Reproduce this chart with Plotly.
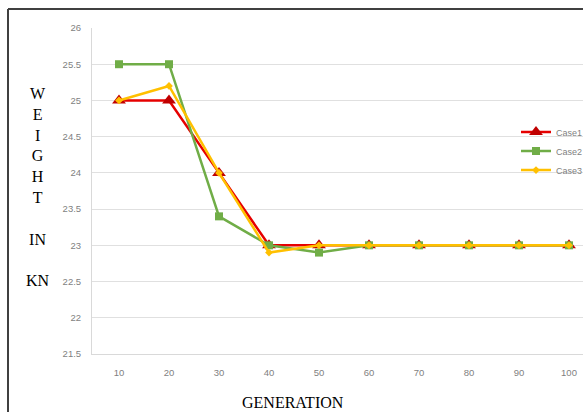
import plotly.graph_objects as go

generations = [10, 20, 30, 40, 50, 60, 70, 80, 90, 100]
case1 = [25, 25, 24, 23, 23, 23, 23, 23, 23, 23]
case2 = [25.5, 25.5, 23.4, 23, 22.9, 23, 23, 23, 23, 23]
case3 = [25, 25.2, 24, 22.9, 23, 23, 23, 23, 23, 23]
y_ticks = [21.5, 22, 22.5, 23, 23.5, 24, 24.5, 25, 25.5, 26]
y_tick_text = ["21.5", "22", "22.5", "23", "23.5", "24", "24.5", "25", "25.5", "26"]

fig = go.Figure()
fig.add_trace(go.Scatter(x=generations, y=case1, name="Case1", mode="lines+markers",
                         line=dict(color="#e60000", width=2.5),
                         marker=dict(symbol="triangle-up", size=12, color="#c00000")))
fig.add_trace(go.Scatter(x=generations, y=case2, name="Case2", mode="lines+markers",
                         line=dict(color="#70ad47", width=2.5),
                         marker=dict(symbol="square", size=8, color="#70ad47")))
fig.add_trace(go.Scatter(x=generations, y=case3, name="Case3", mode="lines+markers",
                         line=dict(color="#ffc000", width=2.5),
                         marker=dict(symbol="diamond", size=6, color="#ffc000")))

fig.update_layout(
    width=583, height=412,
    margin=dict(l=92, r=0, t=28, b=58, autoexpand=False),
    paper_bgcolor="white", plot_bgcolor="white",
    showlegend=True,
    legend=dict(x=516 / 583, y=1 - 117.6 / 412, xref="container", yref="container",
                xanchor="left", yanchor="top",
                font=dict(family="Liberation Sans", size=9, color="#7f7f7f"),
                bgcolor="rgba(0,0,0,0)", tracegroupgap=0),
    xaxis=dict(range=[4.6, 102.8], tickmode="array", tickvals=generations,
               ticktext=[str(g) for g in generations],
               showgrid=False, zeroline=False, showline=True, linecolor="#d9d9d9",
               linewidth=1, ticks="", ticklabelstandoff=10,
               tickfont=dict(family="Liberation Sans", size=9.5, color="#7f7f7f")),
    yaxis=dict(range=[21.5, 26], tickmode="array", tickvals=y_ticks, ticktext=y_tick_text,
               showgrid=True, gridcolor="#e0e0e0", gridwidth=1, zeroline=False,
               showline=True, linecolor="#d9d9d9", linewidth=1, ticks="",
               ticklabelstandoff=8,
               tickfont=dict(family="Liberation Sans", size=9.5, color="#7f7f7f")),
)

fig.add_annotation(text="W<br>E<br>I<br>G<br>H<br>T<br><br>IN<br><br>KN",
                   xref="paper", yref="paper", x=-0.11, y=0.83, xanchor="center", yanchor="top",
                   showarrow=False, align="center",
                   font=dict(family="Liberation Serif", size=16, color="black"))
fig.add_annotation(text="GENERATION", xref="paper", yref="paper",
                   x=(293 - 92) / 491, y=-(402 - 354) / 326, xanchor="center", yanchor="middle",
                   showarrow=False,
                   font=dict(family="Liberation Serif", size=16, color="black"))

# outer frame (top and left edges)
fig.add_shape(type="line", xref="paper", yref="paper",
              x0=(8 - 92) / 491, x1=1.1, y0=1 + (28 - 9) / 326, y1=1 + (28 - 9) / 326,
              line=dict(color="#404040", width=2))
fig.add_shape(type="line", xref="paper", yref="paper",
              x0=(8 - 92) / 491, x1=(8 - 92) / 491, y0=1 + (28 - 9) / 326, y1=-0.3,
              line=dict(color="#404040", width=2))

fig.write_html("out.html", config={"displayModeBar": False},
               post_script="document.body.style.margin='0';document.body.style.overflow='hidden';")
